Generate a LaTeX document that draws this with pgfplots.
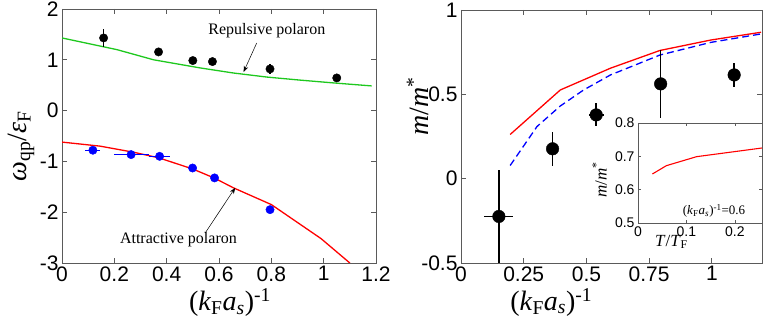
\documentclass[border=0pt]{standalone}
\usepackage{fontspec}
\setmainfont{Liberation Serif}
\newfontfamily\tickfont{Liberation Sans}
\usepackage{pgfplots}
\pgfplotsset{compat=1.18}
\usetikzlibrary{arrows.meta}
\definecolor{gline}{RGB}{30,200,30}
\definecolor{axgray}{RGB}{90,90,90}

\newcommand{\kfas}{(\textit{k}\textsubscript{F}\textit{a}\textsubscript{\textit{s}})\textsuperscript{-1}}

\pgfplotsset{
 base/.style={scale only axis, axis line style={axgray,line width=0.8pt},
  tick style={axgray,line width=0.7pt}, tick align=inside, major tick length=5pt,
  /pgf/number format/assume math mode=true,
  ticklabel style={font=\tickfont\fontsize{21}{21}\selectfont},
  label style={font=\fontsize{28}{28}\selectfont},
  error bars/error mark=none},
}

\begin{document}
\begin{tikzpicture}
\path[use as bounding box] (0,0) rectangle (763pt,320pt);

% left panel
\begin{axis}[base, at={(62pt,57pt)}, anchor=south west, width=314pt, height=254pt,
 xmin=0, xmax=1.2, ymin=-3, ymax=2,
 xtick={0,0.2,...,1.2}, ytick={-3,-2,...,2},
 xlabel={\kfas}, ylabel={\textit{ω}\textsubscript{qp}/\textit{ε}\textsubscript{F}},
 xlabel style={at={(axis description cs:0.535,-0.155)},anchor=center},
 ylabel style={at={(axis description cs:-0.13,0.46)},anchor=center}]
\addplot[gline, line width=1.3pt] coordinates {(0,1.43) (0.21,1.20) (0.35,1.00) (0.528,0.84) (0.655,0.74) (0.783,0.66) (0.91,0.60) (1.037,0.545) (1.183,0.486)};
\addplot[red, line width=1.3pt] coordinates {(0,-0.62) (0.146,-0.70) (0.274,-0.82) (0.37,-0.93) (0.5,-1.15) (0.583,-1.33) (0.655,-1.52) (0.8,-1.85) (0.99,-2.52) (1.1,-3.0)};
\addplot[black, only marks, mark=*, mark size=4.2pt,
 error bars/.cd, y dir=both, y explicit, error bar style={line width=1.5pt}]
 coordinates {(0.159,1.43) +- (0,0.18) (0.369,1.155) +- (0,0.03) (0.50,0.985) +- (0,0.03)
  (0.575,0.965) +- (0,0.03) (0.795,0.82) +- (0,0.1) (1.05,0.643) +- (0,0.03)};
\addplot[blue, only marks, mark=*, mark size=4.2pt,
 error bars/.cd, y dir=both, y explicit, x dir=both, x explicit, error bar style={line width=1.3pt}]
 coordinates {(0.118,-0.78) +- (0.029,0.07) (0.264,-0.866) +- (0.067,0.02) (0.373,-0.9) +- (0.041,0.03)
  (0.499,-1.13) +- (0,0.03) (0.583,-1.325) +- (0,0.03) (0.795,-1.95) +- (0,0.03)};
\node[font=\fontsize{16}{16}\selectfont] at (axis cs:0.783,1.575) {Repulsive polaron};
\draw[-{Stealth[length=6pt]}, line width=0.5pt] (axis cs:0.744,1.33) -- (axis cs:0.694,0.76);
\node[font=\fontsize{16}{16}\selectfont] at (axis cs:0.445,-2.55) {Attractive polaron};
\draw[-{Stealth[length=6pt]}, line width=0.5pt] (axis cs:0.547,-2.41) -- (axis cs:0.662,-1.52);
\end{axis}

% right panel
\begin{axis}[base, at={(461pt,57pt)}, anchor=south west, width=301pt, height=253pt,
 xmin=0, xmax=1.2, ymin=-0.5, ymax=1,
 xtick={0,0.25,0.5,0.75,1}, ytick={-0.5,0,0.5,1},
 xlabel={\kfas}, ylabel={\textit{m}/\textit{m}\textsuperscript{*}},
 xlabel style={at={(axis description cs:0.30,-0.155)},anchor=center},
 ylabel style={at={(axis description cs:-0.143,0.62)},anchor=center}]
\addplot[red, line width=1.3pt] coordinates {(0.196,0.262) (0.396,0.526) (0.596,0.655) (0.793,0.76) (0.996,0.822) (1.196,0.868)};
\addplot[blue, dashed, line width=1.3pt, dash pattern=on 7pt off 4pt] coordinates {(0.196,0.078) (0.303,0.309) (0.396,0.431) (0.489,0.526) (0.596,0.615) (0.793,0.733) (0.996,0.808) (1.196,0.858)};
\addplot[black, only marks, mark=*, mark size=6.3pt,
 error bars/.cd, y dir=both, y explicit, x dir=both, x explicit, error bar style={line width=1.5pt}]
 coordinates {(0.151,-0.224) +- (0.058,0.276) (0.365,0.177) +- (0,0.1) (0.539,0.378) +- (0.03,0.068)
  (0.796,0.562) +- (0,0.2) (1.089,0.615) +- (0,0.073)};
\end{axis}

% inset
\begin{axis}[base, at={(638pt,97pt)}, anchor=south west, width=124pt, height=100pt,
 axis background/.style={fill=white}, major tick length=3pt,
 xmin=0, xmax=0.256, ymin=0.5, ymax=0.8,
 xtick={0,0.1,0.2}, ytick={0.5,0.6,0.7,0.8},
 ticklabel style={font=\tickfont\fontsize{14}{14}\selectfont},
 label style={font=\fontsize{17}{17}\selectfont},
 xlabel={\textit{T}/\textit{T}\textsubscript{F}}, ylabel={\textit{m}/\textit{m}\textsuperscript{*}},
 xlabel style={at={(axis description cs:0.27,-0.19)},anchor=center},
 ylabel style={at={(axis description cs:-0.31,0.43)},anchor=center}]
\addplot[red, line width=1.1pt] coordinates {(0.0297,0.647) (0.0586,0.672) (0.121,0.699) (0.256,0.725)};
\node[font=\fontsize{13}{13}\selectfont] at (axis cs:0.157,0.536) {\kfas=0.6};
\end{axis}
\end{tikzpicture}
\end{document}
